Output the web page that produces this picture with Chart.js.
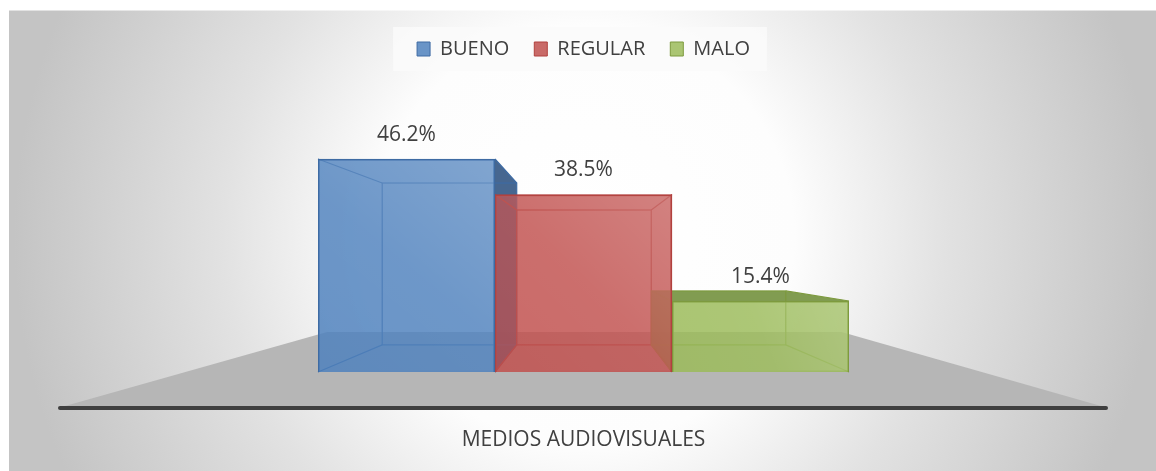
<!DOCTYPE html>
<html>
<head>
<meta charset="utf-8">
<script src="https://cdn.jsdelivr.net/npm/chart.js@4.4.1/dist/chart.umd.min.js"></script>
<style>
  html, body { margin: 0; padding: 0; background: #ffffff; }
  canvas { display: block; }
</style>
</head>
<body>
<canvas id="chart3d" width="1156" height="471"></canvas>
<script>
// data
const categories = ['MEDIOS AUDIOVISUALES'];
const seriesNames = ['BUENO', 'REGULAR', 'MALO'];
const bueno = [46.2];
const regular = [38.5];
const malo = [15.4];
const yMin = 0;
const yMax = 50;

const baseRgb = ['79,129,189', '192,80,77', '155,187,89'];
const edgeColors = ['#3e6ba3', '#b1413e', '#7d9a3e'];
const shadeColors = ['rgba(55,90,135,0.92)', 'rgba(150,55,52,0.9)', 'rgba(118,148,66,0.92)'];

const depth = 0.76;   // back face scale toward the vanishing point
const textColor = '#404040';

Chart.defaults.font.family = "'Open Sans', 'Noto Sans', sans-serif";
Chart.defaults.color = textColor;

function vanish(area) {
  return { x: (area.left + area.right) / 2 + 2, y: area.top + (area.bottom - area.top) * 0.51 };
}

function poly(ctx, pts) {
  ctx.beginPath();
  ctx.moveTo(pts[0][0], pts[0][1]);
  for (let k = 1; k < pts.length; k++) ctx.lineTo(pts[k][0], pts[k][1]);
  ctx.closePath();
  ctx.fill();
}

function getBoxes(chart) {
  const boxes = [];
  chart.data.datasets.forEach((ds, i) => {
    chart.getDatasetMeta(i).data.forEach(bar => {
      const p = bar.getProps(['x', 'y', 'base', 'width'], true);
      boxes.push({ i, x0: p.x - p.width / 2, x1: p.x + p.width / 2, y0: p.y, y1: p.base, cx: p.x, v: ds.data[0] });
    });
  });
  return boxes;
}

const backdrop = {
  id: 'backdrop',
  beforeDraw(chart) {
    const ctx = chart.ctx;
    const w = chart.width, h = chart.height;
    ctx.save();
    ctx.fillStyle = '#ffffff';
    ctx.fillRect(0, 0, w, h);
    const g = ctx.createRadialGradient(w / 2 + 6, h / 2, 0, w / 2 + 6, h / 2, 600);
    g.addColorStop(0, '#ffffff');
    g.addColorStop(0.35, '#fdfdfd');
    g.addColorStop(0.6, '#e2e2e2');
    g.addColorStop(0.95, '#c4c4c4');
    g.addColorStop(1, '#c4c4c4');
    ctx.fillStyle = g;
    ctx.fillRect(9, 10, w - 9, h - 10);
    ctx.strokeStyle = 'rgba(255,255,255,0.5)';
    ctx.lineWidth = 1;
    ctx.beginPath();
    ctx.moveTo(9, 10.5);
    ctx.lineTo(w, 10.5);
    ctx.stroke();

    // light box behind the legend
    const lg = chart.legend;
    if (lg && lg.legendHitBoxes && lg.legendHitBoxes.length) {
      const hb = lg.legendHitBoxes;
      const left = hb[0].left - 24;
      const right = hb[hb.length - 1].left + hb[hb.length - 1].width + 17;
      const cy = hb[0].top + hb[0].height / 2;
      ctx.fillStyle = 'rgba(250,250,250,0.85)';
      ctx.fillRect(left, cy - 22, right - left, 44);
    }
    ctx.restore();
  }
};

const boxes3d = {
  id: 'boxes3d',
  beforeDatasetsDraw(chart) {
    const ctx = chart.ctx;
    const area = chart.chartArea;
    const V = vanish(area);
    const proj = (x, y) => [V.x + depth * (x - V.x), V.y + depth * (y - V.y)];

    ctx.save();
    // floor
    const fl = [area.left - 260, area.bottom + 36];
    const fr = [area.right + 259, area.bottom + 36];
    const fk = 0.49;
    const bl = [V.x + fk * (fl[0] - V.x), V.y + fk * (fl[1] - V.y)];
    const br = [V.x + fk * (fr[0] - V.x), V.y + fk * (fr[1] - V.y)];
    ctx.fillStyle = '#b6b6b6';
    poly(ctx, [fl, fr, br, bl]);
    ctx.strokeStyle = '#3f3f3f';
    ctx.lineWidth = 4;
    ctx.lineCap = 'round';
    ctx.beginPath();
    ctx.moveTo(fl[0] + 2, fl[1]);
    ctx.lineTo(fr[0] - 2, fr[1]);
    ctx.stroke();

    const boxes = getBoxes(chart);
    // inner body of each box
    boxes.forEach(b => {
      ctx.fillStyle = 'rgba(' + baseRgb[b.i] + ',0.4)';
      ctx.fillRect(b.x0, b.y0, b.x1 - b.x0, b.y1 - b.y0);
    });
    // outer faces seen from outside
    boxes.forEach(b => {
      const a = proj(b.x0, b.y0), c = proj(b.x1, b.y1);
      ctx.fillStyle = shadeColors[b.i];
      if (b.x1 < V.x) poly(ctx, [[b.x1, b.y0], [c[0], a[1]], [c[0], c[1]], [b.x1, b.y1]]);
      if (b.x0 > V.x) poly(ctx, [[b.x0, b.y0], [a[0], a[1]], [a[0], c[1]], [b.x0, b.y1]]);
      if (b.y0 > V.y) poly(ctx, [[b.x0, b.y0], [a[0], a[1]], [c[0], a[1]], [b.x1, b.y0]]);
    });
    // hidden edges
    boxes.forEach(b => {
      const a = proj(b.x0, b.y0), c = proj(b.x1, b.y1);
      ctx.strokeStyle = edgeColors[b.i];
      ctx.lineWidth = 1.2;
      ctx.lineCap = 'butt';
      ctx.strokeRect(a[0], a[1], c[0] - a[0], c[1] - a[1]);
      ctx.beginPath();
      ctx.moveTo(b.x0, b.y0); ctx.lineTo(a[0], a[1]);
      ctx.moveTo(b.x1, b.y0); ctx.lineTo(c[0], a[1]);
      ctx.moveTo(b.x0, b.y1); ctx.lineTo(a[0], c[1]);
      ctx.moveTo(b.x1, b.y1); ctx.lineTo(c[0], c[1]);
      ctx.stroke();
    });
    ctx.restore();
  },
  afterDatasetsDraw(chart) {
    const ctx = chart.ctx;
    const boxes = getBoxes(chart);
    ctx.save();
    // soft light on the upper right of each front face
    boxes.forEach(b => {
      const g = ctx.createLinearGradient(b.x0, b.y1, b.x1, b.y0);
      g.addColorStop(0, 'rgba(255,255,255,0)');
      g.addColorStop(0.5, 'rgba(255,255,255,0.03)');
      g.addColorStop(1, 'rgba(255,255,255,0.16)');
      ctx.fillStyle = g;
      ctx.fillRect(b.x0 + 1.5, b.y0 + 1.5, b.x1 - b.x0 - 3, b.y1 - b.y0 - 3);
    });
    ctx.fillStyle = textColor;
    ctx.font = "21px 'Open Sans'";
    ctx.textAlign = 'center';
    ctx.textBaseline = 'middle';
    boxes.forEach(b => {
      ctx.fillText(b.v.toFixed(1) + '%', b.cx, b.y0 - 24);
    });
    ctx.restore();
  }
};

const legendSpace = {
  id: 'legendSpace',
  beforeInit(chart) {
    const fit = chart.legend.fit;
    chart.legend.fit = function () {
      fit.call(this);
      this.height += 72.5;
    };
  }
};

new Chart(document.getElementById('chart3d'), {
  type: 'bar',
  data: {
    labels: categories,
    datasets: [
      { label: seriesNames[0], data: bueno },
      { label: seriesNames[1], data: regular },
      { label: seriesNames[2], data: malo }
    ].map((d, i) => Object.assign(d, {
      backgroundColor: 'rgba(' + baseRgb[i] + ',0.75)',
      borderColor: edgeColors[i],
      borderWidth: 1.5,
      barPercentage: 1,
      categoryPercentage: 1
    }))
  },
  options: {
    responsive: false,
    devicePixelRatio: 1,
    animation: false,
    layout: { padding: { left: 318, right: 307, top: 14, bottom: 19 } },
    plugins: {
      tooltip: { enabled: false },
      legend: {
        position: 'top',
        labels: {
          boxWidth: 13,
          boxHeight: 14,
          padding: 25,
          color: textColor,
          font: { size: 20 },
          generateLabels(chart) {
            return Chart.defaults.plugins.legend.labels.generateLabels(chart).map((l, i) => {
              l.fillStyle = 'rgba(' + baseRgb[i] + ',0.85)';
              l.strokeStyle = edgeColors[i];
              l.lineWidth = 1;
              return l;
            });
          }
        }
      }
    },
    scales: {
      x: {
        grid: { display: false, drawTicks: false },
        border: { display: false },
        ticks: { padding: 55, color: textColor, font: { size: 21 } },
        afterFit(scale) { scale.height = 80; }
      },
      y: { display: false, min: yMin, max: yMax }
    }
  },
  plugins: [backdrop, boxes3d, legendSpace]
});
</script>
</body>
</html>
